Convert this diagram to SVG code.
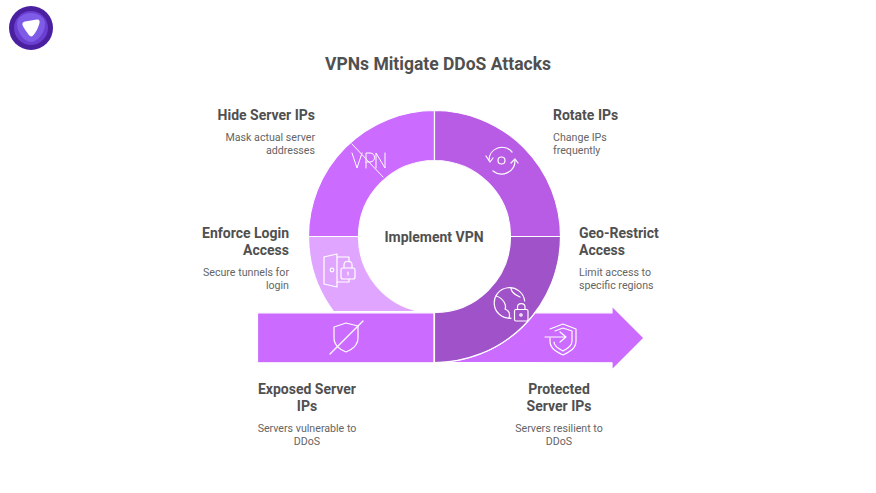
<svg xmlns="http://www.w3.org/2000/svg" width="876" height="493" viewBox="0 0 876 493">
<style>
text{font-family:Roboto,"Liberation Sans",sans-serif}
.t{font-size:14px;font-weight:700;fill:#505050}
.d{font-size:10.65px;fill:#656565}
.m{text-anchor:middle}.e{text-anchor:end}
.i{fill:none;stroke:#fff;stroke-width:1.2;stroke-linecap:round;stroke-linejoin:round}
.s{stroke:#fff;stroke-width:1.2}
</style>
<rect width="876" height="493" fill="#fff"/>
<g id="logo">
<circle cx="31" cy="28" r="22" fill="#4a1fa0"/>
<circle cx="31" cy="28" r="17" fill="#6a3fd0"/>
<path d="M31 13C38 13 45 17 45 24C45 32 38 42 31 42C24 42 17 32 17 24C17 17 24 13 31 13Z" fill="#7f5ce8"/>
<path d="M37 19.500C39 19 40 21 39.500 23C38.500 27 36 33 32.500 36C31 37 29.500 36 28.500 34.500C26.500 31.500 23 27 22.500 25C22 23 23 22 25 21.500Z" fill="#fff"/>
</g>
<text class="m" x="438" y="69.500" style="font-size:17.500px;font-weight:700;fill:#505050">VPNs Mitigate DDoS Attacks</text>
<g id="connectors"></g>
<g id="exposed">
<path class="s" d="M257.500 312.800H434V362.800H257.500Z" fill="#cb6bff"/>
<g class="i"><path d="M334 327L346 323L358 326V338C358 345 352 350 346 352C340 350 334 345 334 338Z"/><path d="M330 354L363 321"/></g>
<text class="t m" x="307" y="393.500">Exposed Server</text><text class="t m" x="307" y="410.500">IPs</text>
<text class="d m" x="307" y="432">Servers vulnerable to</text><text class="d m" x="307" y="445">DDoS</text>
</g>
<g id="protected">
<path class="s" d="M434 362.500A126 126 0 0 0 535 312.800H612V306L644 338L612 370V362.800Z" fill="#cb6bff"/>
<g class="i"><path d="M550 329L563 324L576 329V341C576 349 569 352 563 355C557 352 550 349 550 341V338"/><path d="M555 331L563 328L572 331V341C572 346 567 349 563 351C559 349 554 346 554 342"/><path d="M545 337H565M560 332L566 337L560 342"/></g>
<text class="t m" x="559" y="393.500">Protected</text><text class="t m" x="559" y="410.500">Server IPs</text>
<text class="d m" x="559" y="432">Servers resilient to</text><text class="d m" x="559" y="445">DDoS</text>
</g>
<g id="hide">
<path class="s" d="M308.500 236.500A126 126 0 0 1 434.500 110.500V160.500A76 76 0 0 0 358.500 236.500Z" fill="#cb6bff"/>
<g class="i" style="stroke-width:1"><path d="M352 144L383 177"/><path d="M352 153L357 168L362 153M366 168V153H370C376 153 376 162 370 162H366M376 168V153L385 168V153"/></g>
<text class="t e" x="315" y="119.500">Hide Server IPs</text>
<text class="d e" x="315" y="141">Mask actual server</text><text class="d e" x="315" y="154">addresses</text>
</g>
<g id="rotate">
<path class="s" d="M434.500 110.500A126 126 0 0 1 560.500 236.500H510.500A76 76 0 0 0 434.500 160.500Z" fill="#b85ce6"/>
<g class="i"><circle cx="501.500" cy="160.500" r="3.500"/><path d="M489 160A13 13 0 0 1 512 152"/><path d="M515 160A13.500 13.500 0 0 1 493 171"/><path d="M486 156L490 162L493 158M511 163L515 159L518 163"/></g>
<text class="t" x="553" y="119.500">Rotate IPs</text>
<text class="d" x="553" y="141">Change IPs</text><text class="d" x="553" y="154">frequently</text>
</g>
<g id="geo">
<path class="s" d="M560.500 236.500H510.500A76 76 0 0 1 434.500 312.500V362.500A126 126 0 0 0 560.500 236.500Z" fill="#a052c8"/>
<g class="i"><path d="M511 318.200A15.300 15.300 0 1 1 524.700 301"/><path d="M496 296C503 298 507 305 505 309C510 311 510 315 509 318M511 288C511 293 516 295 520 297"/><rect x="514.500" y="309.500" width="13.500" height="11.500" rx="1.500"/><path d="M517.500 309.500V307C517.500 302.500 525 302.500 525 307V309.500"/><circle cx="521" cy="315" r="1.200"/></g>
<text class="t" x="579" y="237.500">Geo-Restrict</text><text class="t" x="579" y="254.500">Access</text>
<text class="d" x="579" y="276">Limit access to</text><text class="d" x="579" y="289">specific regions</text>
</g>
<g id="login">
<path class="s" d="M308.500 236.500H358.500A76 76 0 0 0 420 311.500H333.500A126 126 0 0 1 308.500 236.500Z" fill="#e0a6ff"/>
<g class="i"><path d="M324 257L337 254V287L324 284Z"/><path d="M337 257H349V262M337 282H349V279"/><circle cx="332" cy="270" r="1.800"/><rect x="341" y="268" width="14" height="11" rx="2"/><path d="M344 268V265C344 260 352 260 352 265V268M348 272V275"/></g>
<text class="t e" x="289" y="237.500">Enforce Login</text><text class="t e" x="289" y="254.500">Access</text>
<text class="d e" x="289" y="276">Secure tunnels for</text><text class="d e" x="289" y="289">login</text>
</g>
<g id="center"><text class="t m" x="434" y="242">Implement VPN</text></g>
</svg>
